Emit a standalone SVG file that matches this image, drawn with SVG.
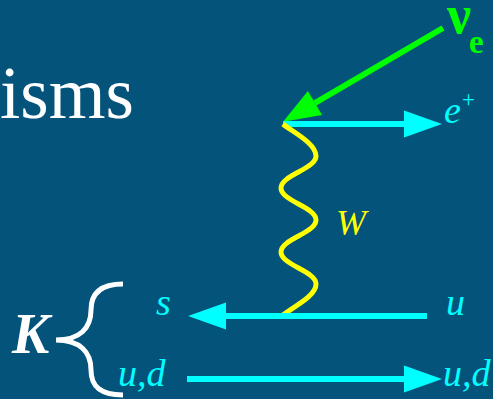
<svg xmlns="http://www.w3.org/2000/svg" width="493" height="399" viewBox="0 0 493 399">
<defs>
<style>
.bg{fill:#03537B}
.ln{fill:none;stroke-linecap:butt}
.cy{stroke:#00FFFF;stroke-width:6}
.gr{stroke:#00FF00;stroke-width:6}
.yl{stroke:#FFFF00;stroke-width:5}
.br{fill:none;stroke:#FFFFFF;stroke-width:5;stroke-linecap:butt}
.sf{font-family:"Liberation Serif","Times New Roman",serif}
.it{font-style:italic}
.lab{fill:#00FFFF;font-size:38px}
</style>
<marker id="hc" markerUnits="userSpaceOnUse" markerWidth="38" markerHeight="27" refX="0" refY="13.5" orient="auto" overflow="visible">
<path d="M0,0 L38,13.5 L0,27 Z" fill="#00FFFF"/>
</marker>
<marker id="hg" markerUnits="userSpaceOnUse" markerWidth="37" markerHeight="28" refX="0" refY="14" orient="auto" overflow="visible">
<path d="M0,0 L37,14 L0,28 Z" fill="#00FF00"/>
</marker>
</defs>
<rect class="bg" x="0" y="0" width="493" height="399"/>
<text class="sf" x="0" y="118" font-size="73" fill="#FFFFFF">isms</text>
<g id="connectors">
<path id="nu-line" class="ln gr" d="M443,28 L315,103" marker-end="url(#hg)"/>
<path id="eplus-line" class="ln cy" d="M283,124 L404,124" marker-end="url(#hc)"/>
<path id="w-line" class="ln yl" d="M283,124 C291,131 316,143 316,156 C316,169 281,175 281,188 C281,201 316,207 316,220 C316,233 281,239 281,252 C281,265 316,271 316,284 C316,297 291,308 283,315"/>
<path id="s-line" class="ln cy" d="M427,316 L226,316" marker-end="url(#hc)"/>
<path id="ud-line" class="ln cy" d="M187,379 L404,379" marker-end="url(#hc)"/>
</g>
<g id="nu">
<text class="sf" x="447" y="33" font-weight="bold" font-size="54" fill="#00FF00">ν</text>
<text class="sf" x="469" y="53" font-weight="bold" font-size="33" fill="#00FF00">e</text>
</g>
<g id="eplus">
<text class="sf it" x="444" y="123" font-size="38" fill="#00FFFF">e</text>
<text class="sf" x="462" y="107" font-size="23" fill="#00FFFF">+</text>
</g>
<g id="W">
<text class="sf it" x="336" y="235" font-size="36" fill="#FFFF00">W</text>
</g>
<g id="s">
<text class="sf it lab" x="156" y="315">s</text>
</g>
<g id="u">
<text class="sf it lab" x="446" y="315">u</text>
</g>
<g id="ud-left">
<text class="sf it lab" x="118" y="386">u,d</text>
</g>
<g id="ud-right">
<text class="sf it lab" x="443" y="386">u,d</text>
</g>
<g id="K">
<path class="br" d="M123,284 C100,284 91,294 91,310 C91,328 80,340 56,340 C80,340 91,352 91,370 C91,386 100,395 123,395"/>
<text class="sf it" x="12" y="353" font-weight="bold" font-size="56" fill="#FFFFFF">K</text>
</g>
</svg>
